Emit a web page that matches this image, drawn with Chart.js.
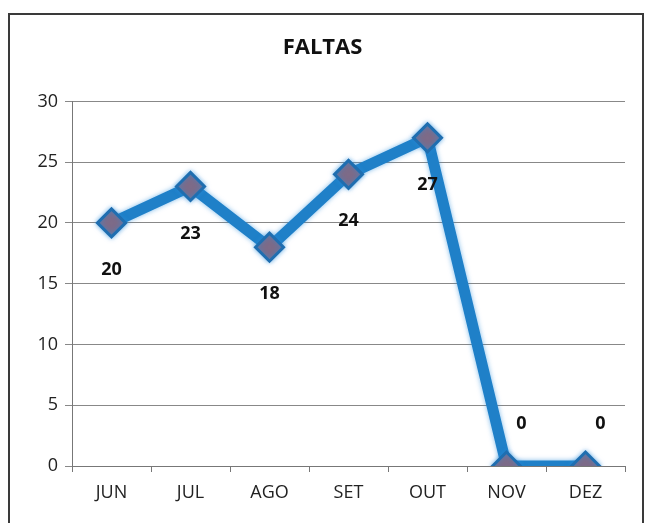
<!DOCTYPE html>
<html>
<head>
<meta charset="utf-8">
<script src="https://cdn.jsdelivr.net/npm/chart.js@4"></script>
<style>
  html, body { margin: 0; padding: 0; background: #fff; overflow: hidden; }
  #moldura { position: absolute; left: 8px; top: 13px; width: 636px; height: 540px; border: 2px solid #3a3a3a; box-sizing: border-box; }
  #caixa { position: absolute; left: 0; top: 0; width: 648px; height: 523px; }
</style>
</head>
<body>
<div id="moldura"></div>
<div id="caixa"><canvas id="grafico" width="648" height="523"></canvas></div>
<script>
const meses = ["JUN", "JUL", "AGO", "SET", "OUT", "NOV", "DEZ"];
const faltas = [20, 23, 18, 24, 27, 0, 0];
const ticksY = [0, 5, 10, 15, 20, 25, 30];
// onde fica o rotulo de cada ponto
const posRotulo = ["abaixo", "abaixo", "abaixo", "abaixo", "abaixo", "acima", "acima"];

const fonte = "'Open Sans', 'Liberation Sans', sans-serif";

// brilho azul em volta da linha e dos marcadores
const brilho = {
    id: 'brilho',
    beforeDatasetsDraw(chart) {
        chart.ctx.save();
        chart.ctx.shadowColor = 'rgba(40, 140, 220, 0.6)';
        chart.ctx.shadowBlur = 5;
    },
    afterDatasetsDraw(chart) {
        chart.ctx.restore();
    }
};

const rotulos = {
    id: 'rotulos',
    afterDatasetsDraw(chart) {
        const c = chart.ctx;
        const meta = chart.getDatasetMeta(0);
        c.save();
        c.font = "bold 18px " + fonte;
        c.fillStyle = "#111";
        c.textAlign = "center";
        c.textBaseline = "middle";
        meta.data.forEach((p, i) => {
            let x = p.x, y = p.y;
            if (posRotulo[i] === "abaixo") {
                y += 47;
            } else {
                x += 15;
                y -= 42;
            }
            c.fillText(String(faltas[i]), x, y);
        });
        c.restore();
    }
};

const ctx = document.getElementById('grafico').getContext('2d');
const chart = new Chart(ctx, {
    type: 'line',
    data: {
        labels: meses,
        datasets: [{
            label: 'FALTAS',
            data: faltas,
            borderColor: '#1f80c8',
            borderWidth: 11,
            tension: 0,
            pointStyle: 'rectRot',
            pointRadius: 14,
            pointHoverRadius: 14,
            pointBackgroundColor: '#7d6b88',
            pointBorderColor: '#1f6eb0',
            pointBorderWidth: 3
        }]
    },
    options: {
        responsive: false,
        animation: false,
        layout: { padding: { left: 20, right: 23, top: 0, bottom: 0 } },
        scales: {
            x: {
                offset: true,
                grid: {
                    offset: true,
                    drawOnChartArea: false,
                    drawTicks: true,
                    tickLength: 6,
                    color: '#777'
                },
                border: { color: '#777', width: 1 },
                ticks: {
                    color: '#222',
                    font: { family: fonte, size: 18 },
                    padding: 10
                },
                afterFit: (s) => { s.height = 57; }
            },
            y: {
                min: 0,
                max: 30,
                afterBuildTicks: (s) => { s.ticks = ticksY.map(v => ({ value: v })); },
                grid: {
                    color: '#888',
                    lineWidth: 1,
                    tickLength: 7
                },
                border: { color: '#777', width: 1 },
                ticks: {
                    color: '#222',
                    font: { family: fonte, size: 18 },
                    padding: 7
                },
                afterFit: (s) => { s.width = 52; }
            }
        },
        plugins: {
            legend: { display: false },
            tooltip: { enabled: false },
            title: {
                display: true,
                text: 'FALTAS',
                color: '#111',
                font: { family: fonte, size: 22, weight: 'bold', lineHeight: 1.2 },
                padding: { top: 35, bottom: 40 }
            }
        }
    },
    plugins: [brilho, rotulos]
});
</script>
</body>
</html>
